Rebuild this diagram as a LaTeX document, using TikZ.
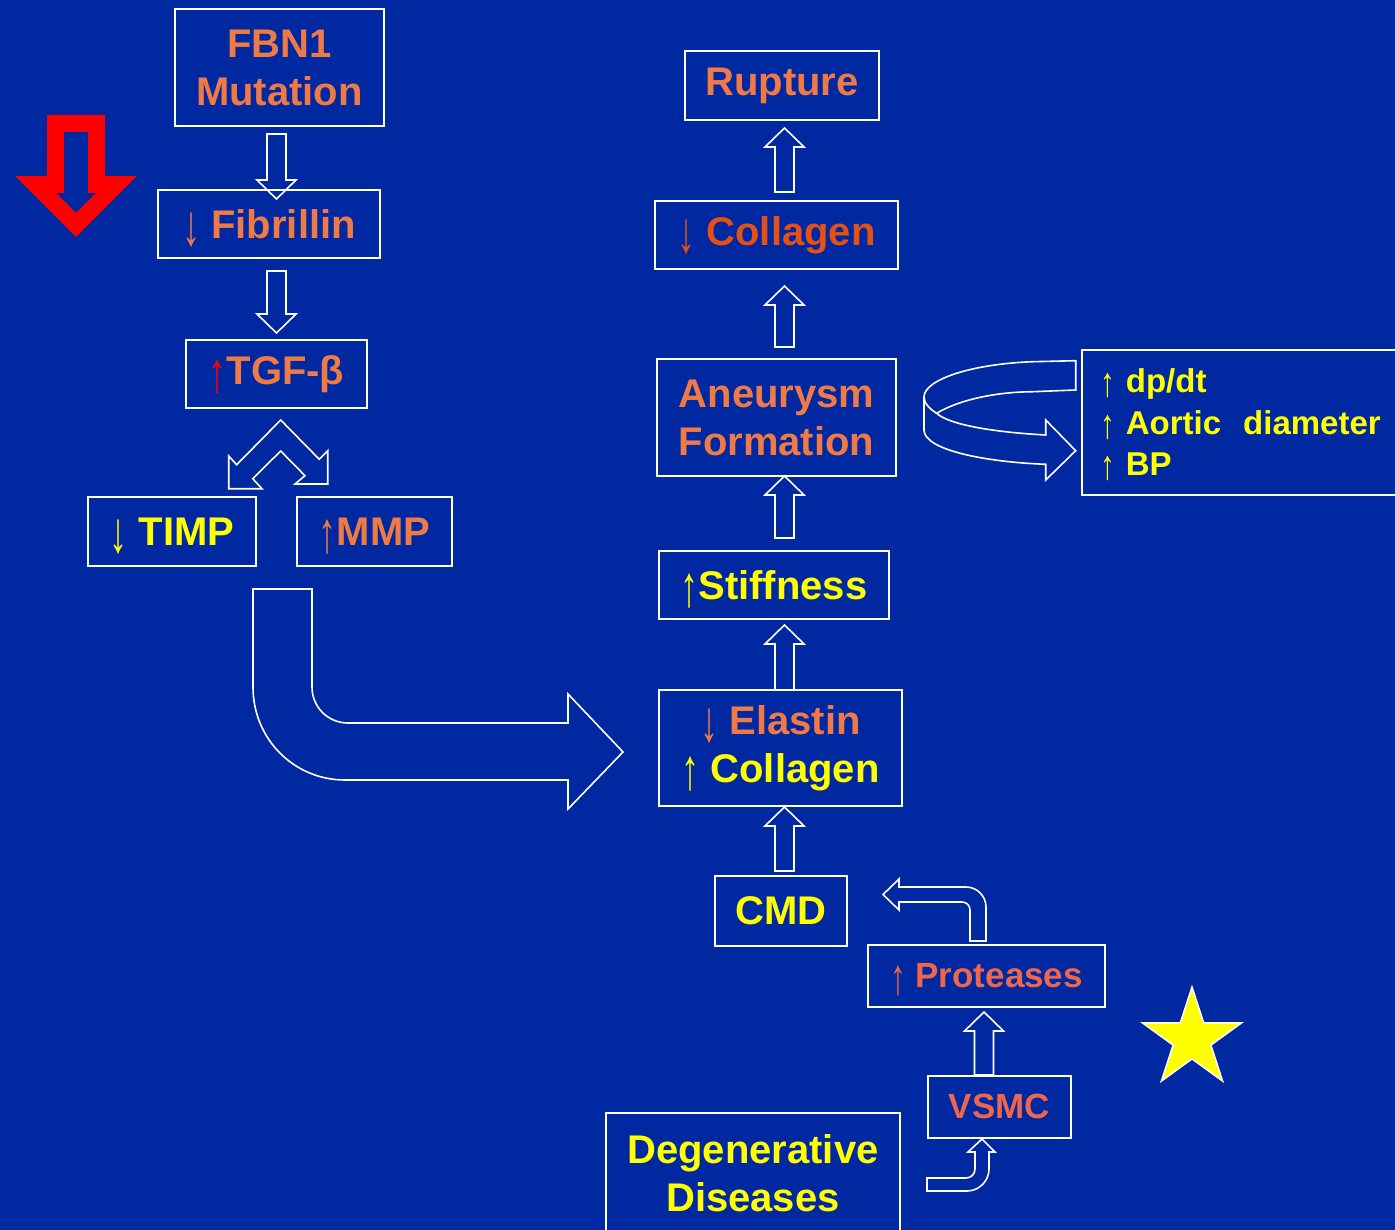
\documentclass[tikz,border=0pt]{standalone}
\usepackage{fontspec}
\usepackage{graphicx}
\setmainfont{Liberation Sans}
\usetikzlibrary{calc}
\definecolor{bg}{RGB}{0,40,160}
\definecolor{orng}{RGB}{240,122,70}
\definecolor{dorng}{RGB}{230,80,20}
\definecolor{porng}{RGB}{240,102,75}
\definecolor{yel}{RGB}{255,255,0}
\definecolor{rd}{RGB}{255,0,0}
\newcommand\uarr{{\mdseries\smash{\raisebox{-0.18em}{\scalebox{0.9}[1.45]{↑}}}}}
\newcommand\darr{{\mdseries\smash{\raisebox{-0.18em}{\scalebox{0.9}[1.45]{↓}}}}}
\newcommand\uarrs{{\mdseries\smash{\raisebox{-0.12em}{\scalebox{0.9}[1.25]{↑}}}}}
% vertical block arrow from #1 (shaft end) to #2 (tip)
\newcommand\vblock[2]{%
  \draw[blk] let \p1=(#1),\p2=(#2),\n1={sign(\y2-\y1)} in
    (\x2-9.5pt,\y1) -- (\x2-9.5pt,\y2-\n1*19pt) -- (\x2-19.5pt,\y2-\n1*19pt)
    -- (\x2,\y2) -- (\x2+19.5pt,\y2-\n1*19pt) -- (\x2+9.5pt,\y2-\n1*19pt)
    -- (\x2+9.5pt,\y1) -- cycle;}
\begin{document}
\begin{tikzpicture}[x=1pt,y=-1pt,
  box/.style={draw=white,line width=2pt,rectangle,inner sep=0pt,align=center,
    font=\bfseries\fontsize{40}{48}\selectfont},
  blk/.style={draw=white,line width=1.6pt,line join=miter}]
\fill[bg] (0,0) rectangle (1395,1230);
\useasboundingbox (0,0) rectangle (1395,1230);

% red arrow
\fill[rd,even odd rule] (47,115) -- (105,115) -- (105,176) -- (137,176) -- (76,237) -- (15,176) -- (47,176) -- cycle
  (64,132) -- (88,132) -- (88,193) -- (96,193) -- (76,213) -- (56,193) -- (64,193) -- cycle;

% left column
\node[box,text=orng,minimum width=209pt,minimum height=117pt] (fbn) at (279.5,67.5) {FBN1\\Mutation};
\node[box,text=orng,minimum width=222pt,minimum height=68pt] (fib) at (269,224.5) {\darr\ Fibrillin};
\node[box,text=orng,minimum width=181pt,minimum height=68pt] (tgf) at (276.5,374.5) {\textcolor{rd}{\uarr}TGF-β};
\node[box,text=yel,minimum width=168pt,minimum height=69pt] (timp) at (172,531.5) {\darr\ TIMP};
\node[box,text=orng,minimum width=155pt,minimum height=69pt] (mmp) at (374.5,531.5) {\uarr MMP};

% right column
\node[box,text=orng,minimum width=194pt,minimum height=69pt] (rup) at (782,86) {Rupture};
\node[box,text=dorng,minimum width=243pt,minimum height=68pt] (col) at (776.5,235.5) {\darr\ Collagen};
\node[box,text=orng,minimum width=239pt,minimum height=117pt] (aneu) at (776.5,417.5) {Aneurysm\\Formation};
\node[box,text=yel,minimum width=318pt,minimum height=145pt,align=left,text width=282pt,
  font=\bfseries\fontsize{33}{41.5}\selectfont] (rbox) at (1241,422.5)
  {\mbox{\uarrs\ dp/dt}\\\mbox{\uarrs\ Aortic\ \ diameter}\\\mbox{\uarrs\ BP}};
\node[box,text=yel,minimum width=230pt,minimum height=68pt] (stiff) at (774,585) {\uarr Stiffness};
\node[box,text=yel,minimum width=243pt,minimum height=116pt] (elas) at (780.5,748) {\textcolor{orng}{\darr\ Elastin}\\\uarr\ Collagen};
\node[box,text=yel,minimum width=132pt,minimum height=70pt] (cmd) at (781,911) {CMD};
\node[box,text=porng,minimum width=237pt,minimum height=62pt,font=\bfseries\fontsize{35}{42}\selectfont] (prot) at (986.5,976) {\uarr\ Proteases};
\node[box,text=porng,minimum width=143pt,minimum height=62pt,font=\bfseries\fontsize{35}{42}\selectfont] (vsmc) at (999.5,1106.5) {VSMC};
\node[box,text=yel,minimum width=294pt,minimum height=120pt] (deg) at (753,1173) {Degenerative\\Diseases};

% straight block arrows
\coordinate (a1s) at (276.5,134);  \coordinate (a1t) at (276.5,199);
\coordinate (a2s) at (276.5,271);  \coordinate (a2t) at (276.5,333);
\coordinate (a3s) at (784.5,192);  \coordinate (a3t) at (784.5,128);
\coordinate (a4s) at (784.5,347);  \coordinate (a4t) at (784.5,286);
\coordinate (a5s) at (784.5,538);  \coordinate (a5t) at (784.5,476);
\coordinate (a6s) at (784.5,690);  \coordinate (a6t) at (784.5,625);
\coordinate (a7s) at (784.5,871);  \coordinate (a7t) at (784.5,807);
\coordinate (a8s) at (984,1075);   \coordinate (a8t) at (984,1012);
\vblock{a1s}{a1t}
\vblock{a2s}{a2t}
\vblock{a3s}{a3t}
\vblock{a4s}{a4t}
\vblock{a5s}{a5t}
\vblock{a6s}{a6t}
\vblock{a7s}{a7t}
\vblock{a8s}{a8t}

% split arrow below TGF
\draw[blk] (280.7,420) -- (319.3,459.3) -- (327.7,450.7) -- (327.7,484) -- (295,484) -- (305,475.7)
  -- (280.7,451) -- (252.7,478.7) -- (262,488.7) -- (228.7,488.7) -- (228.7,456) -- (236.7,464.7) -- cycle;

% big bent arrow to Elastin
\draw[blk] (253,589) -- (312,589) -- (312,687) .. controls (312,707) and (328,723) .. (348,723)
  -- (568,723) -- (568,694) -- (623,752) -- (568,809) -- (568,780) -- (345,780)
  .. controls (294,780) and (253,739) .. (253,687) -- cycle;

% ribbon arrow to right box
\draw[blk] (1075.7,360.7) -- (1033,361.7) .. controls (970,364) and (924,380) .. (924,397) -- (924,430)
  .. controls (924,450) and (985,462) .. (1045.7,464.3) -- (1045.7,480) -- (1075.7,450.7) -- (1045.7,420)
  -- (1045.7,435) .. controls (990,432) and (948,424) .. (936.7,413.3)
  .. controls (955,402) and (990,392) .. (1033,391.7) -- (1075.7,390) -- cycle;
\draw[blk] (924,397) .. controls (924,404) and (930,409) .. (936.7,413.3);

% bent arrow proteases -> CMD
\draw[blk] (970,941) -- (986,941) -- (986,907) .. controls (986,896) and (977,887) .. (966,887)
  -- (899,887) -- (899,879) -- (883,894.5) -- (899,910) -- (899,902) -- (962,902)
  .. controls (966.5,902) and (970,905.5) .. (970,910) -- cycle;

% bent arrow degenerative -> VSMC
\draw[blk] (927,1178) -- (966,1178) .. controls (971,1178) and (975,1174) .. (975,1169)
  -- (975,1152) -- (968,1152) -- (982,1139) -- (995,1152) -- (989,1152) -- (989,1169)
  .. controls (989,1181) and (979,1191) .. (967,1191) -- (927,1191) -- cycle;

% star
\draw[fill=yel,draw=white,line width=1.5pt] (1192,987) -- (1203.7,1022.9) -- (1241.5,1022.9) -- (1210.9,1045.1)
  -- (1222.6,1081.1) -- (1192,1058.9) -- (1161.4,1081.1) -- (1173.1,1045.1) -- (1142.5,1022.9)
  -- (1180.3,1022.9) -- cycle;
\end{tikzpicture}
\end{document}
